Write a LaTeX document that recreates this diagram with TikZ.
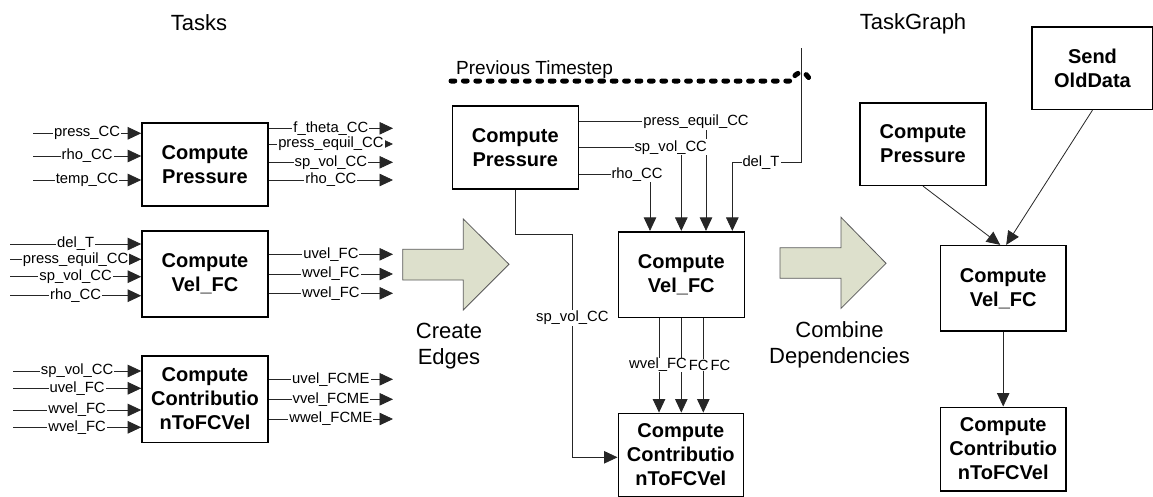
\documentclass[tikz,border=0pt]{standalone}
\usepackage{fontspec}
\setmainfont{Liberation Sans}
\usetikzlibrary{arrows.meta}
\definecolor{arrfill}{RGB}{221,224,204}
\definecolor{arredge}{RGB}{90,90,90}
\tikzset{
  box/.style={draw, line width=1.6pt, minimum width=126pt, align=center,
    font=\fontsize{20}{24}\selectfont\bfseries, inner sep=0pt},
  conn/.style={draw=black!85, line width=0.8pt, -{Triangle[length=13.5pt,width=12.5pt]}},
  plainline/.style={draw=black!85, line width=0.8pt},
  lab/.style={fill=white, inner sep=1pt, font=\fontsize{14.8}{17}\selectfont},
  big/.style={inner sep=0pt, align=center, font=\fontsize{22}{26}\selectfont},
  dotline/.style={line width=5pt, line cap=round, dash pattern=on 3.8pt off 8.6pt},
  fatarrow/.style={fill=arrfill, draw=arredge, line width=0.8pt, line join=miter},
}
\begin{document}
\begin{tikzpicture}[x=1pt,y=-1pt]
\useasboundingbox (0,0) rectangle (1153,496);
\fill[white] (0,0) rectangle (1153,496);

% ---------- titles ----------
\node[big, anchor=base] (tTasks) at (199,30.5) {Tasks};
\node[big, anchor=base] (tGraph) at (913,29.5) {TaskGraph};
\node[inner sep=0pt, anchor=base west, font=\fontsize{19}{22}\selectfont] (tPrev) at (456,74) {Previous Timestep};
\node[big] (tCreate) at (449,346) {Create\\Edges};
\node[big] (tCombine) at (839.5,345) {Combine\\Dependencies};

% ---------- fat arrows ----------
\draw[fatarrow] (402.7,249.3) -- (463.3,249.3) -- (463.3,219) -- (509,264.3) -- (463.3,310) -- (463.3,280) -- (402.7,280) -- cycle;
\draw[fatarrow] (780,247.8) -- (841,247.8) -- (841,217.3) -- (886,263.3) -- (841,308.3) -- (841,278.3) -- (780,278.3) -- cycle;

% ---------- left panel boxes ----------
\node[box, minimum height=83pt] (LP) at (205,164.5) {Compute\\Pressure};
\node[box, minimum height=85.7pt] (LV) at (205,274) {Compute\\Vel\_FC};
\node[box, minimum height=86.6pt] (LC) at (205,399) {Compute\\Contributio\\nToFCVel};

% inputs / outputs of LP
\foreach \y/\t [count=\i] in {133.3/press\_CC, 156/rho\_CC, 180/temp\_CC}{
  \coordinate (lpi\i) at (33,\y);
  \draw[conn] (lpi\i) -- (lpi\i -| LP.west) node[lab, midway]{\t};
}
\foreach \y/\t [count=\i] in {128.3/f\_theta\_CC, 144/press\_equil\_CC, 162.3/sp\_vol\_CC, 180/rho\_CC}{
  \coordinate (lpo\i) at (393,\y);
  \draw[conn] (lpo\i -| LP.east) -- (lpo\i) node[lab, midway]{\t};
}
% LV
\foreach \y/\t [count=\i] in {244/del\_T, 259.3/press\_equil\_CC, 276.7/sp\_vol\_CC, 295.7/rho\_CC}{
  \coordinate (lvi\i) at (10,\y);
  \draw[conn] (lvi\i) -- (lvi\i -| LV.west) node[lab, midway]{\t};
}
\foreach \y/\t [count=\i] in {254.3/uvel\_FC, 274/wvel\_FC, 293.3/wvel\_FC}{
  \coordinate (lvo\i) at (393,\y);
  \draw[conn] (lvo\i -| LV.east) -- (lvo\i) node[lab, midway]{\t};
}
% LC
\foreach \y/\t [count=\i] in {371/sp\_vol\_CC, 388.3/uvel\_FC, 410/wvel\_FC, 427.3/wvel\_FC}{
  \coordinate (lci\i) at (13,\y);
  \draw[conn] (lci\i) -- (lci\i -| LC.west) node[lab, midway]{\t};
}
\foreach \y/\t [count=\i] in {379.3/uvel\_FCME, 399.3/vvel\_FCME, 419/wwel\_FCME}{
  \coordinate (lco\i) at (393,\y);
  \draw[conn] (lco\i -| LC.east) -- (lco\i) node[lab, midway]{\t};
}

% ---------- middle panel ----------
\node[box, minimum height=83.3pt] (MP) at (515.3,147.4) {Compute\\Pressure};
\node[box, minimum height=85.6pt] (MV) at (681.3,274.5) {Compute\\Vel\_FC};
\node[box, minimum height=83.3pt, minimum width=125pt] (MC) at (680.8,455) {Compute\\Contributio\\nToFCVel};

% dotted previous-timestep line with hop
\draw[dotline] (451,81) -- (792,81) .. controls (795,70) and (807,70) .. (810,81);

% del_T from previous timestep
\coordinate (dt0) at (801.7,48);
\coordinate (dt1) at (801.7,162.7);
\draw[conn] (dt0) -- (dt1) -| ([xshift=51pt]MV.north);
\node[lab] (ldt) at (761,162.7) {del\_T};

% press_equil_CC
\coordinate (pe) at (706,121.7);
\draw[conn] (MP.east |- pe) -| ([xshift=24.7pt]MV.north);
\node[lab] (lpe) at (696,121.7) {press\_equil\_CC};
% sp_vol_CC
\coordinate (sv) at (681.3,147.3);
\draw[conn] (MP.east |- sv) -| (MV.north);
\node[lab] (lsv) at (670.7,147.3) {sp\_vol\_CC};
% rho_CC
\coordinate (rh) at (650,174.3);
\draw[conn] (MP.east |- rh) -| ([xshift=-31.3pt]MV.north);
\node[lab] (lrh) at (637,174.3) {rho\_CC};

% sp_vol_CC down to MC
\coordinate (svA) at (572.3,234.3);
\coordinate (svB) at (572.3,457.3);
\draw[conn] (MP.south) |- (svA) -- (svB) -- (svB -| MC.west);
\node[lab] (lsv2) at (572.3,317.7) {sp\_vol\_CC};

% MV -> MC
\draw[conn] ([xshift=-22.3pt]MV.south) -- ([xshift=-22.3pt]MV.south |- MC.north);
\draw[conn] (MV.south) -- (MV.south |- MC.north);
\draw[conn] ([xshift=22pt]MV.south) -- ([xshift=22pt]MV.south |- MC.north);
\node[lab, inner sep=0.3pt] (lw3) at (720.5,365) {FC};
\node[lab, inner sep=0.3pt] (lw2) at (698.8,365) {FC};
\node[lab, inner sep=0.3pt] (lw1) at (658,365) {wvel\_FC};

% ---------- right panel ----------
\node[box, minimum height=82.6pt, minimum width=121pt] (RS) at (1092.5,68) {Send\\OldData};
\node[box, minimum height=82.6pt] (RP) at (923,144) {Compute\\Pressure};
\node[box, minimum height=85.3pt, minimum width=125.7pt] (RV) at (1003.2,288.3) {Compute\\Vel\_FC};
\node[box, minimum height=83.4pt, minimum width=125.7pt] (RC) at (1003.2,449) {Compute\\Contributio\\nToFCVel};

\draw[conn] (RP.south) -- ([xshift=-3pt]RV.north);
\draw[conn] (RS.south) -- ([xshift=3pt]RV.north);
\draw[conn] (RV.south) -- (RC.north);
\end{tikzpicture}
\end{document}
